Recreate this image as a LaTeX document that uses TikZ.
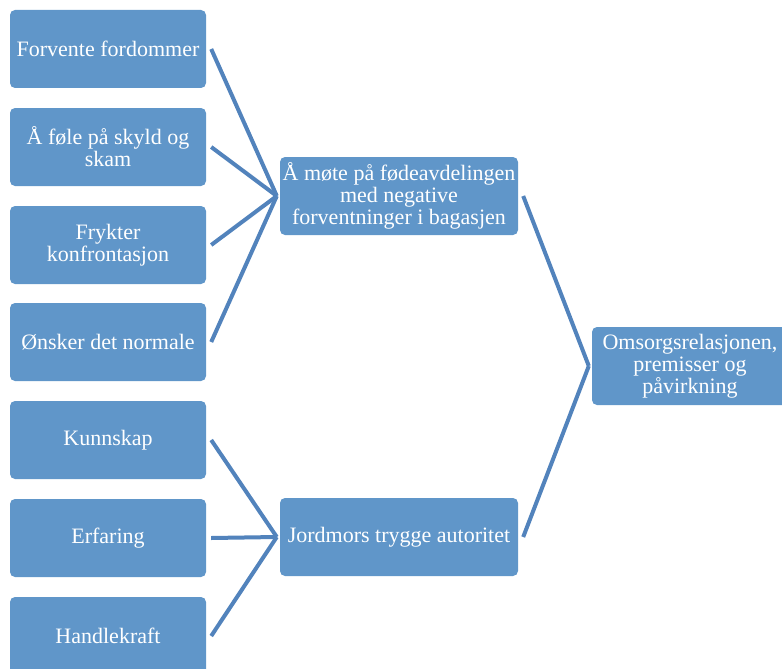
\documentclass[tikz,border=0pt]{standalone}
\usepackage{fontspec}
\setmainfont{Liberation Serif}
\usetikzlibrary{calc}
\definecolor{boxblue}{RGB}{96,150,201}
\definecolor{lineblue}{RGB}{82,131,188}
\tikzstyle{boxnode}=[fill=boxblue,rounded corners=5pt,text=white,align=center,inner sep=0pt,minimum height=78pt,font=\fontsize{22}{22}\selectfont]
\tikzstyle{smallbox}=[boxnode,minimum width=196pt]
\tikzstyle{widebox}=[boxnode,minimum width=238pt]
\tikzstyle{linkline}=[draw=lineblue,line width=4pt]

\begin{document}
\begin{tikzpicture}[x=1pt,y=-1pt]
  \useasboundingbox (0,0) rectangle (782,669);
  \clip (0,0) rectangle (782,669);
  
  \node[smallbox] (fordom) at (108,49) {Forvente fordommer};
  \node[smallbox] (skyld) at (108,147) {Å føle på skyld og\\skam};
  \node[smallbox] (frykt) at (108,245) {Frykter\\konfrontasjon};
  \node[smallbox] (normal) at (108,342) {Ønsker det normale};
  \node[smallbox] (kunn) at (108,440) {Kunnskap};
  \node[smallbox] (erfar) at (108,538) {Erfaring};
  \node[smallbox] (handle) at (108,636) {Handlekraft};
  
  \node[widebox] (mote) at (399,196) {Å møte på fødeavdelingen\\med negative\\forventninger i bagasjen};
  \node[widebox] (jord) at (399,537) {Jordmors trygge autoritet};
  
  \node[smallbox] (omsorg) at (690,366) {Omsorgsrelasjonen,\\premisser og\\påvirkning};
  
  \draw[linkline] ([xshift=5pt]fordom.east) -- ([xshift=-3pt]mote.west);
  \draw[linkline] ([xshift=5pt]skyld.east) -- ([xshift=-3pt]mote.west);
  \draw[linkline] ([xshift=5pt]frykt.east) -- ([xshift=-3pt]mote.west);
  \draw[linkline] ([xshift=5pt]normal.east) -- ([xshift=-3pt]mote.west);  %four into top
  
  \draw[linkline] ([xshift=5pt]kunn.east) -- ([xshift=-3pt]jord.west);
  \draw[linkline] ([xshift=5pt]erfar.east) -- ([xshift=-3pt]jord.west);
  \draw[linkline] ([xshift=5pt]handle.east) -- ([xshift=-3pt]jord.west);
  
  \draw[linkline] ([xshift=5pt]mote.east) -- ([xshift=-3pt]omsorg.west);
  \draw[linkline] ([xshift=5pt]jord.east) -- ([xshift=-3pt]omsorg.west);
  
\end{tikzpicture}
\end{document}
